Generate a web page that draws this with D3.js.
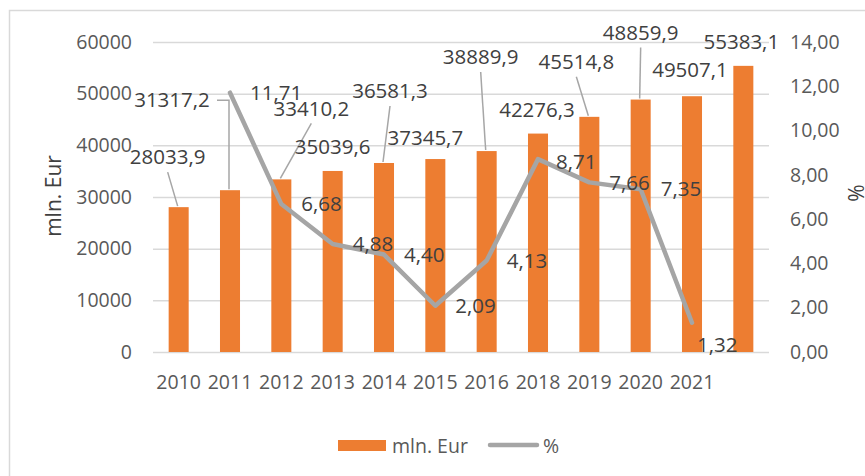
<!DOCTYPE html>
<html>
<head>
<meta charset="utf-8">
<script src="https://cdn.jsdelivr.net/npm/d3@7"></script>
<style>
  body { margin: 0; background: #fff; }
  svg { display: block; font-family: "Open Sans", sans-serif; }
</style>
</head>
<body>
<div id="chart"></div>
<script>
(function(){
    // categories (the last bar carries no year label in the original)
    var years = ['2010','2011','2012','2013','2014','2015','2016','2018','2019','2020','2021',''];
    var mlnEur = [28033.9, 31317.2, 33410.2, 35039.6, 36581.3, 37345.7, 38889.9, 42276.3, 45514.8, 48859.9, 49507.1, 55383.1];
    var pct = [null, 11.71, 6.68, 4.88, 4.40, 2.09, 4.13, 8.71, 7.66, 7.35, 1.32, null];
    var leftTicks = [0, 10000, 20000, 30000, 40000, 50000, 60000];
    var rightTicks = [0, 2, 4, 6, 8, 10, 12, 14];

    // hand placed label offsets (px from the mark), like the original
    var barLabelPos = [[-11,-50,'v'],[-58,-90,'elbow'],[30,-71,'v'],[0,-24,''],[6,-72,'v'],[-10,-21,''],
                       [-6,-94,'v'],[-1,-24,''],[-13,-55,'v'],[0,-67,'v'],[-2,-26,''],[-2,-24,'']];
    var lineLabelPos = [null,[20,0],[20,0],[20,0],[20,0],[20,0],[20,0],[18,3],[20,0],[20,0],[5,22],null];

    var W = 865, H = 476;
    var m = {left: 153, right: 769, top: 42, bottom: 352};
    var loc = d3.formatLocale({decimal: ',', thousands: '', grouping: [3], currency: ['', '']});
    var f1 = loc.format('.1f'), f2 = loc.format('.2f');

    var svg = d3.select('#chart').append('svg').attr('width', W).attr('height', H);

    svg.append('rect')
        .attr('x', 9.5).attr('y', 10.5).attr('width', 900).attr('height', 500)
        .attr('fill', 'none').attr('stroke', '#d9d9d9').attr('stroke-width', 1.5);

    var x = d3.scaleBand().domain(d3.range(years.length))
        .range([m.left, m.right]).paddingInner(0.61).paddingOuter(0.305);
    var y = d3.scaleLinear().domain([0, 60000]).range([m.bottom, m.top]);
    var y2 = d3.scaleLinear().domain([0, 14]).range([m.bottom, m.top]);
    var cx = i => x(i) + x.bandwidth() / 2;

    // gridlines
    svg.append('g')
        .attr('transform', 'translate(' + m.left + ',0)')
        .call(d3.axisLeft(y).tickValues(leftTicks).tickSize(-(m.right - m.left)).tickFormat(''))
        .call(g => g.select('.domain').remove())
        .call(g => g.selectAll('line').attr('stroke', '#d9d9d9').attr('stroke-width', 1.5));

    // left axis
    svg.append('g')
        .attr('transform', 'translate(132,0)')
        .call(d3.axisLeft(y).tickValues(leftTicks).tickSize(0).tickPadding(0).tickFormat(d3.format('d')))
        .call(g => g.select('.domain').remove())
        .call(g => g.selectAll('text').attr('fill', '#595959').style('font-size', '19.5px').style('font-family', '"Open Sans", sans-serif'));

    // right axis
    svg.append('g')
        .attr('transform', 'translate(790,0)')
        .call(d3.axisRight(y2).tickValues(rightTicks).tickSize(0).tickPadding(0).tickFormat(f2))
        .call(g => g.select('.domain').remove())
        .call(g => g.selectAll('text').attr('fill', '#595959').style('font-size', '19.5px').style('font-family', '"Open Sans", sans-serif'));

    // x labels
    svg.append('g').selectAll('text')
        .data(years).enter()
        .append('text')
        .attr('x', (d, i) => cx(i)).attr('y', 389)
        .attr('text-anchor', 'middle')
        .attr('fill', '#595959').style('font-size', '19.5px')
        .text(d => d);

    // axis titles
    svg.append('text')
        .attr('transform', 'translate(61,196) rotate(-90)')
        .attr('text-anchor', 'middle').attr('fill', '#404040').style('font-size', '21px')
        .text('mln. Eur');
    svg.append('text')
        .attr('transform', 'translate(864,193) rotate(-90)')
        .attr('text-anchor', 'middle').attr('fill', '#404040').style('font-size', '21px')
        .text('%');

    // bars
    svg.append('g').selectAll('rect')
        .data(mlnEur).enter()
        .append('rect')
        .attr('x', (d, i) => x(i)).attr('width', x.bandwidth())
        .attr('y', d => y(d)).attr('height', d => y(0) - y(d))
        .attr('fill', '#ed7d31');

    // line
    var pts = pct.map((d, i) => ({i: i, v: d})).filter(d => d.v !== null);
    svg.append('path')
        .datum(pts)
        .attr('d', d3.line().x(d => cx(d.i)).y(d => y2(d.v)))
        .attr('fill', 'none').attr('stroke', '#a5a5a5').attr('stroke-width', 4.5)
        .attr('stroke-linejoin', 'round').attr('stroke-linecap', 'round');

    // leader lines
    var leaders = svg.append('g').attr('fill', 'none').attr('stroke', '#a6a6a6').attr('stroke-width', 1.5);
    mlnEur.forEach(function(d, i){
        var p = barLabelPos[i], bx = cx(i), by = y(d);
        var lx = bx + p[0], ly = by + p[1];
        if (p[2] === 'v') {
            leaders.append('path').attr('d', 'M' + lx + ',' + (ly + 15) + 'L' + (bx - 1) + ',' + (by - 1));
        } else if (p[2] === 'elbow') {
            leaders.append('path').attr('d', 'M' + (lx + 45) + ',' + ly + 'H' + (bx - 1) + 'V' + (by - 1));
        }
    });

    // bar labels
    svg.append('g').selectAll('text')
        .data(mlnEur).enter()
        .append('text')
        .attr('x', (d, i) => cx(i) + barLabelPos[i][0])
        .attr('y', (d, i) => y(d) + barLabelPos[i][1])
        .attr('dy', '0.35em').attr('text-anchor', 'middle')
        .attr('fill', '#404040').style('font-size', '20.5px')
        .text(d => f1(d));

    // line labels
    svg.append('g').selectAll('text')
        .data(pts).enter()
        .append('text')
        .attr('x', d => cx(d.i) + lineLabelPos[d.i][0])
        .attr('y', d => y2(d.v) + lineLabelPos[d.i][1])
        .attr('dy', '0.35em').attr('text-anchor', 'start')
        .attr('fill', '#404040').style('font-size', '20.5px')
        .text(d => f2(d.v));

    // legend
    var lg = svg.append('g').style('font-size', '19.5px').attr('fill', '#595959');
    lg.append('rect').attr('x', 338).attr('y', 440).attr('width', 48).attr('height', 11).attr('fill', '#ed7d31');
    lg.append('text').attr('x', 392).attr('y', 446).attr('dy', '0.35em').text('mln. Eur');
    lg.append('line').attr('x1', 490).attr('x2', 537).attr('y1', 445).attr('y2', 445)
        .attr('stroke', '#a5a5a5').attr('stroke-width', 4.5).attr('stroke-linecap', 'round');
    lg.append('text').attr('x', 543).attr('y', 446).attr('dy', '0.35em').text('%');
})();
</script>
</body>
</html>
